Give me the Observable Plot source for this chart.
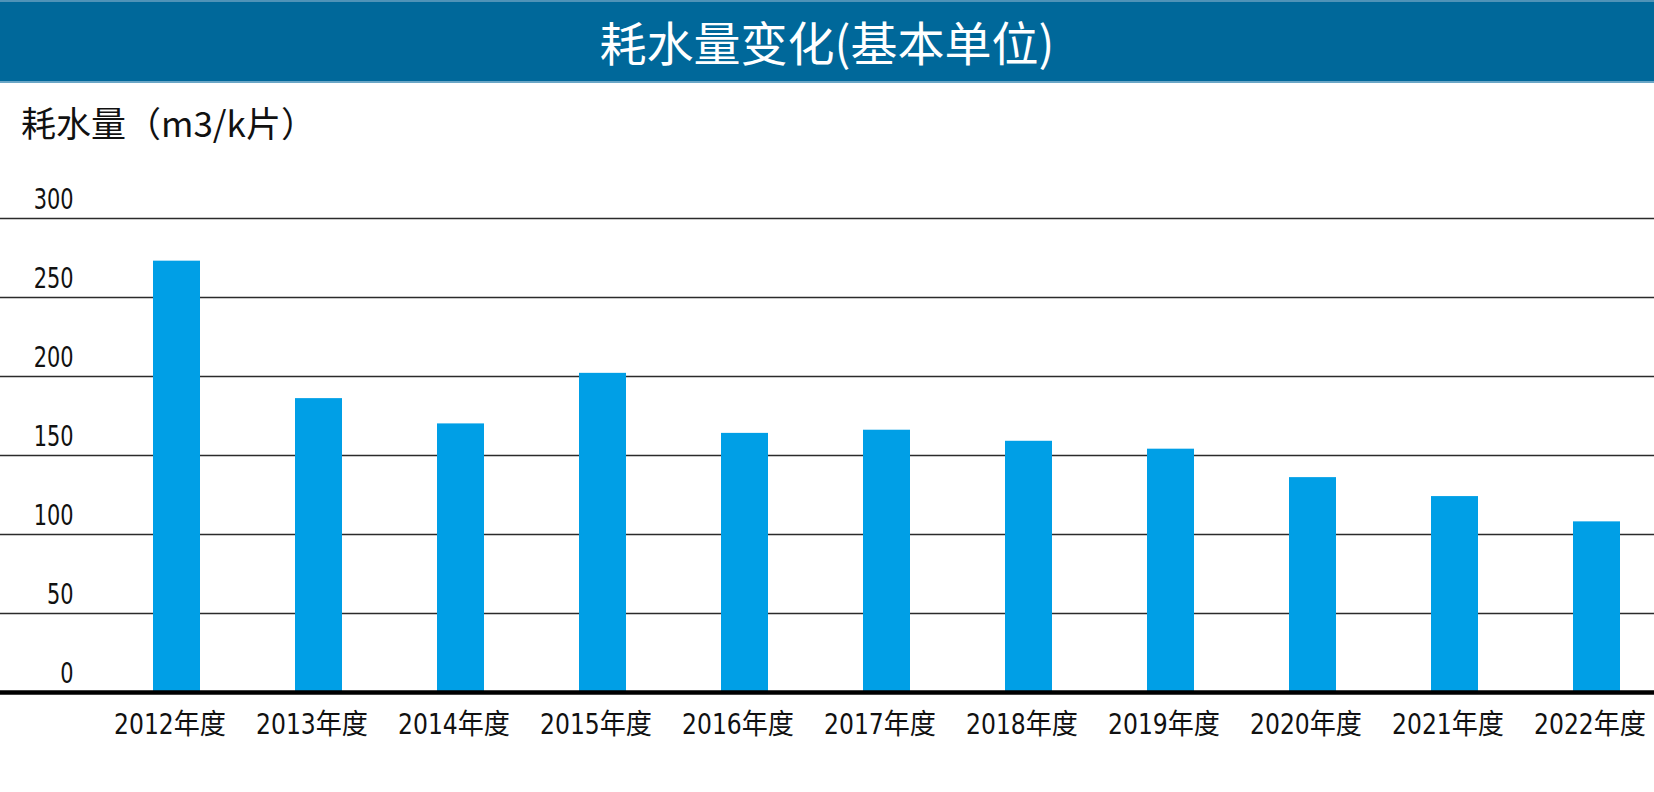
<!DOCTYPE html>
<html>
<head>
<meta charset="utf-8">
<script src="https://cdn.jsdelivr.net/npm/d3@7"></script>
<script src="https://cdn.jsdelivr.net/npm/@observablehq/plot@0.6"></script>
<style>
  html, body { margin: 0; padding: 0; background: #fff; }
  #wrap { width: 1654px; height: 792px; overflow: hidden; position: relative; }
  #title {
    height: 83px; box-sizing: border-box;
    background: #00689a; color: #fff;
    border-top: 2px solid #4f93b8; border-bottom: 2px solid #6aa6c6;
    font-family: "Noto Sans CJK SC", sans-serif; font-size: 47px;
    line-height: 77px; text-align: center; padding-bottom: 2px;
  }
  #ylabel {
    height: 70px; box-sizing: border-box;
    padding: 18px 0 0 21px;
    font-family: "Noto Sans CJK SC", sans-serif; font-size: 35px; line-height: 42px; color: #111;
  }
  svg { display: block; }
</style>
</head>
<body>
<div id="wrap">
  <div id="title">耗水量变化(基本单位)</div>
  <div id="ylabel">耗水量（m3/k片）</div>
  <div id="chart"></div>
</div>
<script>
const years = ["2012年度","2013年度","2014年度","2015年度","2016年度","2017年度","2018年度","2019年度","2020年度","2021年度","2022年度"];
const values = [273, 186, 170, 202, 164, 166, 159, 154, 136, 124, 108];
const yTicks = [0, 50, 100, 150, 200, 250, 300];

const data = years.map((y, i) => ({year: y, value: values[i]}));
const font = '"Liberation Sans Narrow", "DejaVu Sans Condensed", "Noto Sans CJK SC", sans-serif';

const chart = Plot.plot({
  width: 1654,
  height: 639,
  marginLeft: 0,
  marginRight: 0,
  marginTop: 65,
  marginBottom: 100,
  style: {fontFamily: font, fontSize: "29px", color: "#111", background: "#fff"},
  x: {domain: years, paddingInner: 0.669, paddingOuter: 0.658, align: 0.818},
  y: {domain: [0, 300]},
  marks: [
    Plot.ruleY(yTicks.filter(d => d > 0), {stroke: "#2b2b2b", strokeWidth: 1.6, strokeOpacity: 1}),
    Plot.barY(data, {x: "year", y: "value", fill: "#009fe6"}),
    Plot.ruleY([0], {stroke: "#000", strokeWidth: 4.5}),
    Plot.axisY(yTicks, {anchor: "left", tickSize: 0, tickPadding: 0, textAnchor: "end", dx: 73, dy: -19, label: null, fontSize: 29, fill: "#111"}),
    Plot.axisX({anchor: "bottom", tickSize: 0, tickPadding: 21, dx: -7, label: null, fontSize: 29, fill: "#111"})
  ]
});

// condense tick text horizontally around its anchor point
function condense(selector, s) {
  d3.select(chart).selectAll(selector).each(function() {
    const t = this.getAttribute("transform");
    if (t) {
      this.setAttribute("transform", t + ` scale(${s},1)`);
    } else {
      const x = +(this.getAttribute("x") || 0), y = +(this.getAttribute("y") || 0);
      this.removeAttribute("x"); this.removeAttribute("y");
      this.setAttribute("transform", `translate(${x},${y}) scale(${s},1)`);
    }
  });
}
condense('g[aria-label="x-axis tick label"] text', 0.9);
condense('g[aria-label="y-axis tick label"] text', 0.8);

document.getElementById("chart").appendChild(chart);
</script>
</body>
</html>
